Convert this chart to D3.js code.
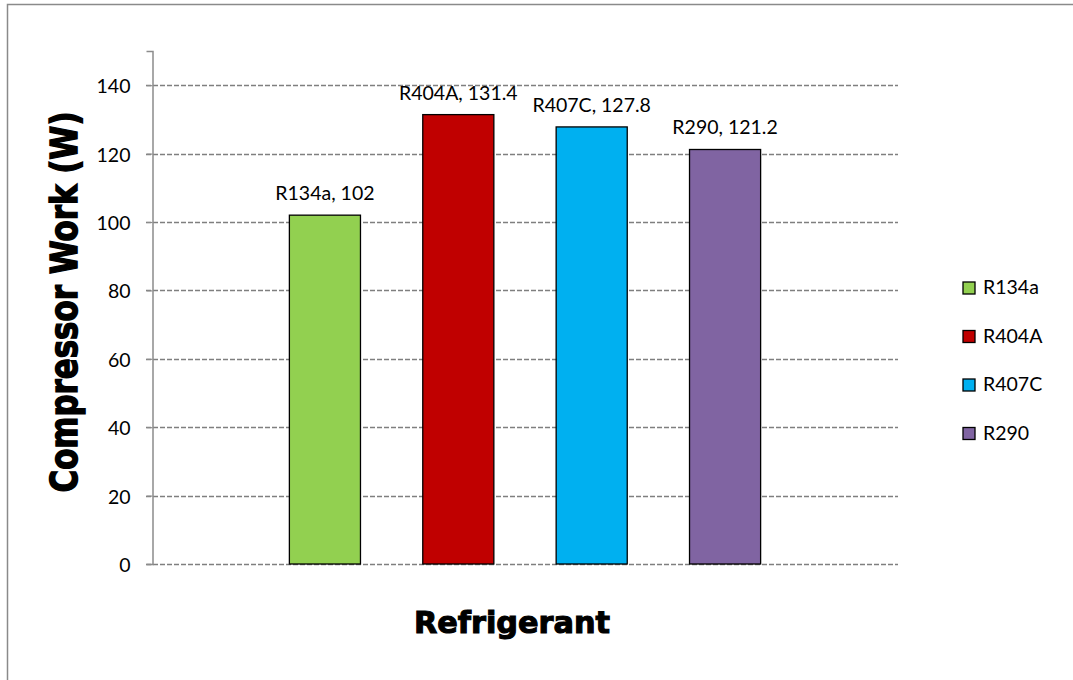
<!DOCTYPE html>
<html>
<head>
<meta charset="utf-8">
<script src="https://cdn.jsdelivr.net/npm/d3@7/dist/d3.min.js"></script>
<style>
  html, body { margin: 0; padding: 0; background: #fff; }
  svg { display: block; }
</style>
</head>
<body>
<svg id="chart" width="1073" height="680"></svg>
<script>
// Compressor work per refrigerant
const refrigerants = ["R134a", "R404A", "R407C", "R290"];
const compressorWork = [102, 131.4, 127.8, 121.2];
const barColors = ["#92D050", "#C00000", "#00B0F0", "#8064A2"];
const yTicks = [0, 20, 40, 60, 80, 100, 120, 140];

const svg = d3.select("#chart");
const W = 1073, H = 680;
const plot = { left: 152, right: 898, top: 51, bottom: 564 };
const labelFont = "Lato, 'Open Sans', sans-serif";
const titleFont = "'DejaVu Sans', 'Liberation Sans', sans-serif";

// Chart frame
svg.append("rect")
  .attr("x", 7.5).attr("y", 4.5)
  .attr("width", W + 20).attr("height", H + 20)
  .attr("fill", "#fff").attr("stroke", "#8a8a8a").attr("stroke-width", 1.5);

const x = d3.scaleBand()
  .domain(refrigerants)
  .range([plot.left, plot.right])
  .paddingInner(0.467)
  .paddingOuter(1.03);

const y = d3.scaleLinear()
  .domain([0, 150])
  .range([plot.bottom, plot.top]);

// Dashed horizontal gridlines
svg.append("g")
  .selectAll("line")
  .data(yTicks)
  .join("line")
  .attr("x1", plot.left - 6).attr("x2", plot.right)
  .attr("y1", d => Math.round(y(d)) + 0.5).attr("y2", d => Math.round(y(d)) + 0.5)
  .attr("stroke", "#7f7f7f").attr("stroke-width", 1.3)
  .attr("stroke-dasharray", "5,2");

// Y axis
const yAxis = d3.axisLeft(y).tickValues(yTicks).tickSize(6).tickPadding(16);
const yg = svg.append("g")
  .attr("transform", `translate(${plot.left + 0.5},0)`)
  .call(yAxis);
yg.select(".domain").attr("stroke", "#8c8c8c").attr("stroke-width", 1.5);
yg.selectAll(".tick line").attr("stroke", "#8c8c8c").attr("stroke-width", 1.2);
yg.selectAll(".tick text")
  .attr("font-family", labelFont).attr("font-size", 19.5)
  .attr("fill", "#000").attr("dy", "0.38em");

// Bars
svg.append("g")
  .selectAll("rect")
  .data(refrigerants)
  .join("rect")
  .attr("x", d => x(d))
  .attr("y", (d, i) => y(compressorWork[i]))
  .attr("width", x.bandwidth())
  .attr("height", (d, i) => y(0) - y(compressorWork[i]))
  .attr("fill", (d, i) => barColors[i])
  .attr("stroke", "#000").attr("stroke-width", 1.3);

// Value labels
svg.append("g")
  .selectAll("text")
  .data(refrigerants)
  .join("text")
  .attr("x", d => x(d) + x.bandwidth() / 2)
  .attr("y", (d, i) => y(compressorWork[i]) - 15)
  .attr("text-anchor", "middle")
  .attr("font-family", labelFont).attr("font-size", 19.5)
  .attr("fill", "#000")
  .text((d, i) => `${d}, ${compressorWork[i]}`);

// Legend
const legend = svg.append("g").attr("transform", "translate(963,282)");
const rows = legend.selectAll("g")
  .data(refrigerants)
  .join("g")
  .attr("transform", (d, i) => `translate(0,${i * 48.5})`);
rows.append("rect")
  .attr("width", 12).attr("height", 12)
  .attr("fill", (d, i) => barColors[i])
  .attr("stroke", "#000").attr("stroke-width", 1.3);
rows.append("text")
  .attr("x", 20).attr("y", 12)
  .attr("font-family", labelFont).attr("font-size", 19.5)
  .attr("fill", "#000")
  .text(d => d);

// Axis titles
svg.append("text")
  .attr("x", 512).attr("y", 633)
  .attr("text-anchor", "middle")
  .attr("font-family", titleFont).attr("font-weight", "bold")
  .attr("font-size", 30)
  .attr("textLength", 196).attr("lengthAdjust", "spacingAndGlyphs")
  .attr("fill", "#000").attr("stroke", "#000").attr("stroke-width", 1.1)
  .text("Refrigerant");

svg.append("text")
  .attr("transform", "translate(77,302) rotate(-90)")
  .attr("text-anchor", "middle")
  .attr("font-family", titleFont).attr("font-weight", "bold")
  .attr("font-size", 38)
  .attr("textLength", 381).attr("lengthAdjust", "spacingAndGlyphs")
  .attr("fill", "#000").attr("stroke", "#000").attr("stroke-width", 1.5)
  .text("Compressor Work (W)");
</script>
</body>
</html>
